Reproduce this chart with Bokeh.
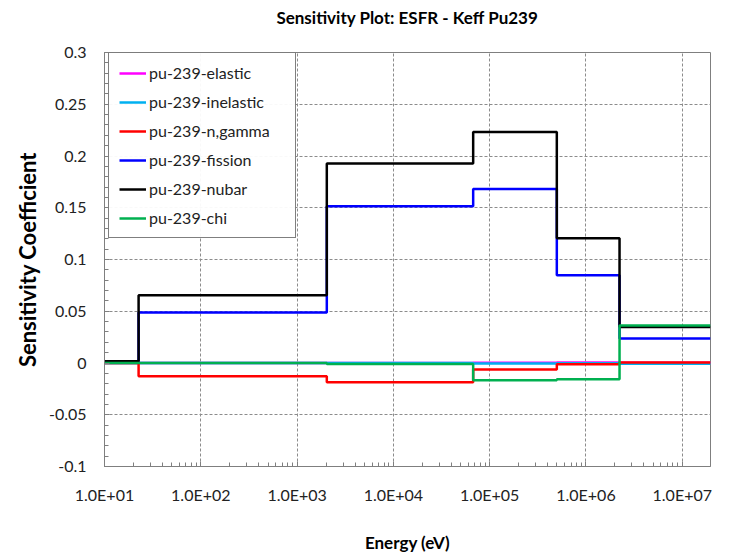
from bokeh.plotting import figure
from bokeh.models import FixedTicker, Legend, LegendItem, Title
from bokeh.embed import file_html
from bokeh.resources import INLINE

# Group boundaries (eV)
edges = [10, 22.6, 2035, 67380, 497900, 2231000, 19640000]

# Sensitivity per group (low -> high energy)
elastic = [0.0, 0.0, 0.0, 0.0003, 0.0006, 0.0003]
inelastic = [0.0, 0.0, 0.0, -0.0005, -0.0003, -0.0008]
ngamma = [0.0, -0.0129, -0.0186, -0.0064, -0.0013, 0.0004]
fission = [0.0015, 0.0487, 0.1515, 0.168, 0.0848, 0.0236]
nubar = [0.0018, 0.0655, 0.1928, 0.2231, 0.1206, 0.0348]
chi = [0.0, 0.0, -0.001, -0.0167, -0.0158, 0.0362]

series_names = ["pu-239-elastic", "pu-239-inelastic", "pu-239-n,gamma",
                "pu-239-fission", "pu-239-nubar", "pu-239-chi"]
series_colors = ["#FF00FF", "#00B0F0", "#FF0000", "#0000FF", "#000000", "#00B050"]

x_ticks = [1e1, 1e2, 1e3, 1e4, 1e5, 1e6, 1e7]
x_tick_labels = ["1.0E+01", "1.0E+02", "1.0E+03", "1.0E+04", "1.0E+05", "1.0E+06", "1.0E+07"]
y_ticks = [-0.1, -0.05, 0, 0.05, 0.1, 0.15, 0.2, 0.25, 0.3]
y_tick_labels = ["-0.1", "-0.05", "0", "0.05", "0.1", "0.15", "0.2", "0.25", "0.3"]

title_text = "Sensitivity Plot: ESFR - Keff Pu239"

FONT = "Lato"
AX = "#7f7f7f"

p = figure(width=732, height=555, x_axis_type="log",
           x_range=(10, 19640000), y_range=(-0.1, 0.3),
           output_backend="svg", toolbar_location=None,
           min_border_left=104, min_border_right=22,
           min_border_top=52, min_border_bottom=89)

# spacer title next to the frame, real title placed outside it
spacer = Title(text=" ", text_font_size="1px", standoff=22)
p.add_layout(spacer, "above")
main_title = Title(text=title_text, align="center", text_font=FONT,
                   text_font_size="17px", text_font_style="bold",
                   text_color="#000000", standoff=0)
p.add_layout(main_title, "above")

p.outline_line_color = AX
p.outline_line_width = 1
p.background_fill_color = "white"
p.border_fill_color = "white"

minor_x = [m * d for d in [1e1, 1e2, 1e3, 1e4, 1e5, 1e6, 1e7] for m in range(2, 10)
           if m * d < 19640000]
p.xaxis.ticker = FixedTicker(ticks=x_ticks, minor_ticks=minor_x)
p.xaxis.major_label_overrides = dict(zip(x_ticks, x_tick_labels))
minor_y = [round(-0.1 + 0.01 * i, 2) for i in range(41)]
p.yaxis.ticker = FixedTicker(ticks=y_ticks, minor_ticks=minor_y)
p.yaxis.major_label_overrides = dict(zip(y_ticks, y_tick_labels))

for ax in (p.xaxis[0], p.yaxis[0]):
    ax.axis_line_color = AX
    ax.major_tick_line_color = AX
    ax.minor_tick_line_color = AX
    ax.major_tick_in = 5
    ax.major_tick_out = 0
    ax.minor_tick_in = 4
    ax.minor_tick_out = 0
    ax.major_label_text_font = FONT
    ax.major_label_text_font_size = "16px"
    ax.major_label_text_color = "#222222"
    ax.major_label_standoff = 18
    ax.axis_label_text_font = FONT
    ax.axis_label_text_font_style = "bold"
    ax.axis_label_text_color = "#000000"

p.xaxis.axis_label = "Energy (eV)"
p.yaxis.axis_label = "Sensitivity Coefficient"
p.xaxis.axis_label_text_font_size = "17px"
p.yaxis.axis_label_text_font_size = "22px"
p.xaxis.axis_label_standoff = 25
p.yaxis.axis_label_standoff = 5

p.xgrid.ticker = FixedTicker(ticks=x_ticks)
p.ygrid.ticker = FixedTicker(ticks=y_ticks)
for g in (p.xgrid[0], p.ygrid[0]):
    g.grid_line_color = "#8c8c8c"
    g.grid_line_dash = "3 2"
    g.grid_line_width = 1

all_series = [elastic, inelastic, ngamma, fission, nubar, chi]
items = []
for name, color, vals in zip(series_names, series_colors, all_series):
    r = p.step(x=edges, y=list(vals) + [vals[-1]], mode="after",
               line_color=color, line_width=2.5)
    items.append(LegendItem(label=name, renderers=[r]))

legend = Legend(items=items, location=(4, 228))
legend.label_text_font = FONT
legend.label_text_font_size = "16px"
legend.label_text_color = "#222222"
legend.border_line_color = "#000000"
legend.border_line_width = 1
legend.glyph_width = 27
legend.glyph_height = 18
legend.label_height = 18
legend.spacing = 10
legend.padding = 10
legend.label_standoff = 3
legend.label_width = 136
legend.margin = 0
p.add_layout(legend, "center")

open("out.html", "w").write(file_html(p, INLINE))
